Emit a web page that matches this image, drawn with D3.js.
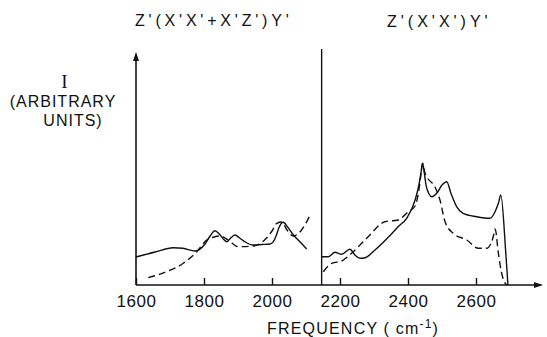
<!DOCTYPE html>
<html><head><meta charset="utf-8">
<script src="https://cdn.jsdelivr.net/npm/d3@7"></script>
<style>body{margin:0;background:#fff}svg{display:block}</style></head>
<body><svg id="c" width="547" height="337"></svg>
<script>
// ---- data (frequency in cm^-1, intensity in arbitrary units) ----
const leftSolidFreq  = [1600,1656,1709,1738,1774,1803,1818,1832,1845,1858,1867,1880,1891,1905,1921,1945,1970,1994,2004,2012,2020,2033,2046,2063,2083,2102];
const leftSolidVal   = [28,33,37.3,36.7,34,41,49,54.3,51,45.5,43.3,47.5,50,47,43,40,40.5,41,43.3,49,57,62.7,58,50,43,36];
const leftDashFreq   = [1636,1690,1739,1779,1808,1830,1847,1871,1901,1945,1984,2000,2014,2029,2044,2063,2087,2112];
const leftDashVal    = [7.3,13.3,21.7,33.3,45,48,49,45,38.3,39,47,54,61.7,63,55,49,55,70];
const rightSolidFreq = [2146,2166,2185,2205,2229,2244,2259,2274,2303,2342,2371,2396,2421,2432,2438,2443,2448,2453,2462,2470,2485,2500,2514,2526,2543,2562,2602,2641,2656,2666,2673,2688,2694];
const rightSolidVal  = [28.3,28.3,32.7,30.7,35.7,30,26.7,27.3,35,47.7,58.3,66.7,85,100,112,121.7,112,100,91,88.3,92,100,103.3,92,78.3,71.7,68.3,66.7,73.3,82,90,30,0];
const rightDashFreq  = [2151,2176,2205,2234,2283,2332,2371,2401,2421,2432,2438,2443,2449,2455,2479,2494,2509,2533,2573,2607,2631,2646,2652,2656,2660,2663,2671,2679,2691];
const rightDashVal   = [13.3,21.7,24,31.7,48.3,63.3,65,73.3,79,95,110,121.7,113,108.3,98.3,85,63.3,51.7,45,36.7,36.7,43.3,50,56,50,40,20,7,0];
const tickValues     = [1600,1800,2000,2200,2400,2600];
const panelTitles    = ["Z'(X'X'+X'Z')Y'", "Z'(X'X')Y'"];
const yLabelLines    = ["I", "(ARBITRARY", "UNITS)"];
const xLabel         = "FREQUENCY";
const dividerFreq    = 2146;

const svg = d3.select("#c");
const x = d3.scaleLinear().domain([1600, 2200]).range([136, 340]);
const y = d3.scaleLinear().domain([0, 235]).range([285, 50]);
const ink = "#111";
const font = "'Liberation Sans', Arial, sans-serif";

// axes lines
const x0 = x(1600), y0 = y(0);
const xEnd = 543, yTop = y(233);
svg.append("line").attr("x1", x0).attr("x2", x0).attr("y1", y0).attr("y2", yTop + 2)
  .attr("stroke", ink).attr("stroke-width", 1.6);
svg.append("path").attr("d", `M${x0-3},${yTop+9}L${x0},${yTop}L${x0+3},${yTop+9}Z`).attr("fill", ink);
svg.append("line").attr("x1", x0).attr("x2", xEnd - 2).attr("y1", y0).attr("y2", y0)
  .attr("stroke", ink).attr("stroke-width", 1.6);
svg.append("path").attr("d", `M${xEnd-9},${y0-3}L${xEnd},${y0}L${xEnd-9},${y0+3}Z`).attr("fill", ink);
// divider
svg.append("line").attr("x1", x(dividerFreq)).attr("x2", x(dividerFreq)).attr("y1", y0).attr("y2", y(236))
  .attr("stroke", ink).attr("stroke-width", 1.4);

// ticks
const axis = d3.axisBottom(x).tickValues(tickValues).tickSizeInner(-7).tickSizeOuter(0)
  .tickPadding(10).tickFormat(d3.format("d"));
const gx = svg.append("g").attr("transform", `translate(0,${y0})`).call(axis);
gx.select(".domain").remove();
gx.selectAll("line").attr("stroke", ink).attr("stroke-width", 1.4);
gx.selectAll("text").attr("fill", ink).style("font-family", font).style("font-size", "17px")
  .style("letter-spacing", "0.6px");

// curves
const line = d3.line().x(d => x(d[0])).y(d => y(d[1])).curve(d3.curveMonotoneX);
const series = [
  [leftSolidFreq, leftSolidVal, null],
  [leftDashFreq, leftDashVal, "7,4"],
  [rightSolidFreq, rightSolidVal, null],
  [rightDashFreq, rightDashVal, "7,4"]
];
series.forEach(([f, v, dash]) => {
  svg.append("path").datum(f.map((d, i) => [d, v[i]])).attr("d", line)
    .attr("fill", "none").attr("stroke", ink).attr("stroke-width", 1.4)
    .attr("stroke-dasharray", dash);
});

// titles
svg.append("text").attr("x", 135).attr("y", 26).text(panelTitles[0])
  .style("font-family", font).style("font-size", "16px").style("letter-spacing", "3.8px").attr("fill", ink);
svg.append("text").attr("x", 387).attr("y", 27).text(panelTitles[1])
  .style("font-family", font).style("font-size", "16px").style("letter-spacing", "4px").attr("fill", ink);

// y label
const yl = [[65, 88], [63, 107], [73, 126]];
yLabelLines.forEach((t, i) => {
  svg.append("text").attr("x", yl[i][0]).attr("y", yl[i][1]).attr("text-anchor", "middle").text(t)
    .style("font-family", i === 0 ? "'Liberation Serif', serif" : font)
    .style("font-size", i === 0 ? "19px" : "16px").style("letter-spacing", "1px").attr("fill", ink);
});

// x label
const xl = svg.append("text").attr("x", 267).attr("y", 334)
  .style("font-family", font).style("font-size", "16px").style("letter-spacing", "1.2px").attr("fill", ink);
xl.append("tspan").text(xLabel + " ( cm");
xl.append("tspan").attr("dy", -6).style("font-size", "12px").text("-1");
xl.append("tspan").attr("dy", 6).text(")");
</script></body></html>
